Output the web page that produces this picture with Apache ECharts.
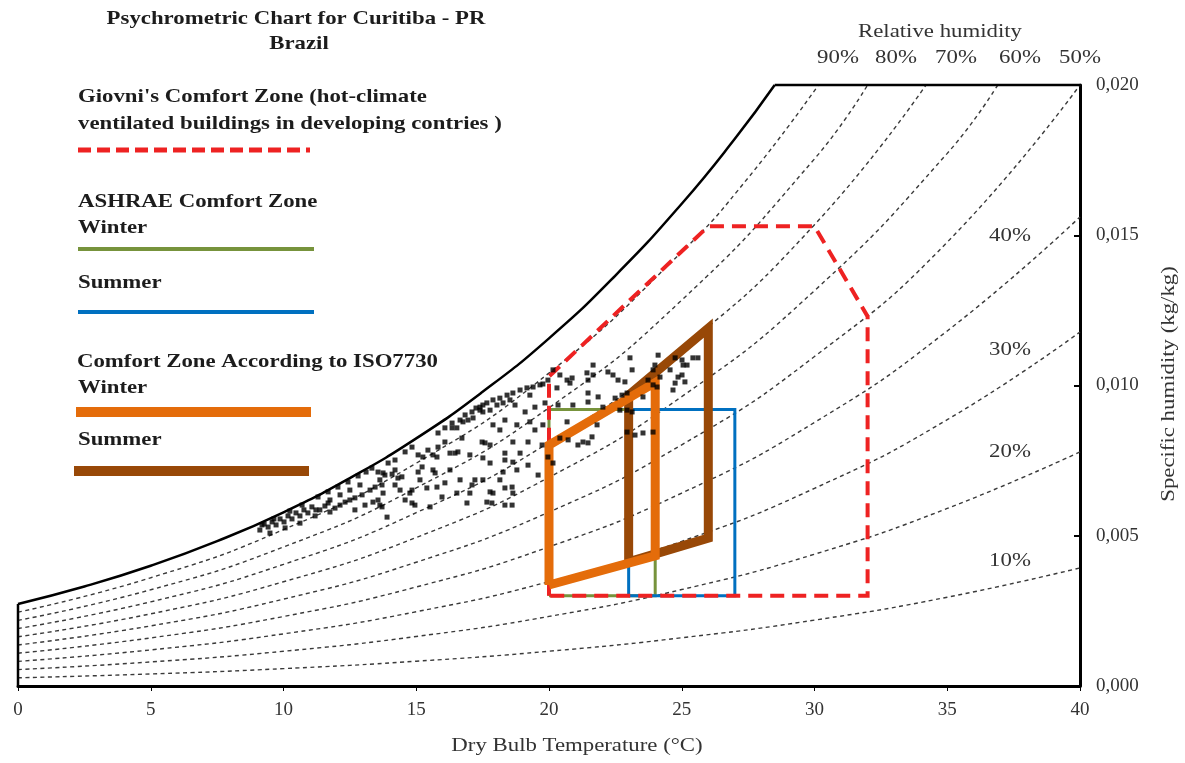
<!DOCTYPE html>
<html>
<head>
<meta charset="utf-8">
<script src="https://cdn.jsdelivr.net/npm/echarts@6/dist/echarts.min.js"></script>
<style>html,body{margin:0;padding:0;background:#fff}#c{width:1185px;height:763px}</style>
</head>
<body>
<div id="c"></div>
<script>
// ---------- data ----------
const xTickValues = [0, 5, 10, 15, 20, 25, 30, 35, 40];
const yTickValues = [0, 0.005, 0.010, 0.015, 0.020];

// saturation (100%) curve and its closing segments
const satCurve = [[0,0.00273],[2.5,0.00331],[5,0.00400],[7.5,0.00482],[10,0.00578],[12.5,0.00692],[15,0.00824],[17.5,0.00979],[20,0.01157],[22.5,0.01366],[25,0.01605],[27,0.01821],[28.5,0.0200]];
const satTop = [[28.5,0.0200],[40,0.0200]];
const leftEdge = [[0,0],[0,0.00273]];

// relative humidity curves (dashed)
const rh90 = [[0,0.002458],[5,0.003602],[10,0.005204],[15,0.007414],[20,0.010417],[25,0.014446],[27.5,0.01691],[30.15,0.0200]];
const rh80 = [[0,0.002185],[5,0.003202],[10,0.004626],[15,0.006590],[20,0.009259],[25,0.012841],[30,0.017542],[32.0,0.0200]];
const rh70 = [[0,0.001912],[5,0.002801],[10,0.004047],[15,0.005767],[20,0.008102],[25,0.011236],[30,0.015350],[34.2,0.0200]];
const rh60 = [[0,0.001639],[5,0.002401],[10,0.003469],[15,0.004943],[20,0.006944],[25,0.009631],[30,0.013157],[35,0.017724],[36.9,0.0200]];
const rh50 = [[0,0.001366],[5,0.002001],[10,0.002891],[15,0.004119],[20,0.005787],[25,0.008026],[30,0.010964],[35,0.014770],[40,0.0200]];
const rh40 = [[0,0.001092],[5,0.001601],[10,0.002313],[15,0.003295],[20,0.004630],[25,0.006420],[30,0.008771],[35,0.011816],[40,0.01561]];
const rh30 = [[0,0.000819],[5,0.001201],[10,0.001735],[15,0.002471],[20,0.003472],[25,0.004815],[30,0.006578],[35,0.008862],[40,0.01178]];
const rh20 = [[0,0.000546],[5,0.000800],[10,0.001156],[15,0.001648],[20,0.002315],[25,0.003210],[30,0.004386],[35,0.005908],[40,0.00779]];
const rh10 = [[0,0.000273],[5,0.000400],[10,0.000578],[15,0.000824],[20,0.001157],[25,0.001605],[30,0.002193],[35,0.002954],[40,0.00393]];
const rhTopLabels = ['90%', '80%', '70%', '60%', '50%'];
const rhSideLabels = ['40%', '30%', '20%', '10%'];

// comfort zones
const givoniZone = [[20,0.0030],[20,0.0103],[26,0.0153],[30,0.0153],[32,0.0123],[32,0.0030],[20,0.0030]];
const ashraeWinter = [[20,0.0030],[20,0.0092],[24,0.0092],[24,0.0030],[20,0.0030]];
const ashraeSummer = [[23,0.0030],[23,0.0092],[27,0.0092],[27,0.0030],[23,0.0030]];
const isoWinter = [[20,0.00336],[20,0.00802],[24,0.01010],[24,0.00433],[20,0.00336]];
const isoSummer = [[23,0.00413],[23,0.00968],[26,0.01191],[26,0.00492],[23,0.00413]];

// observed climate points for Curitiba
const curitibaObs = [
[9.11,0.00519],[9.27,0.00539],[9.42,0.00529],[9.57,0.00546],[9.72,0.00536],[9.87,0.00556],[10.02,0.00546],[10.17,0.00566],[10.32,0.00556],[10.47,0.00576],[10.62,0.00566],[10.77,0.00586],[10.92,0.00576],[11.07,0.00596],[11.22,0.00586],[9.49,0.00509],[10.06,0.00526],[10.62,0.00542],[11.19,0.00566],
[11.37,0.00586],[11.56,0.00599],[11.68,0.00609],[11.75,0.00579],[11.94,0.00592],[12.13,0.00602],[12.32,0.00612],[12.50,0.00619],[12.69,0.00626],[12.96,0.00636],[13.26,0.00652],[13.45,0.00662],[13.63,0.00686],[13.75,0.00709],[13.56,0.00619],[13.71,0.00596],[13.37,0.00612],[12.50,0.00652],[12.88,0.00669],[12.13,0.00636],[11.75,0.00619],
[13.56,0.00712],[13.82,0.00702],[14.09,0.00705],[14.31,0.00692],[14.46,0.00696],[13.71,0.00669],[14.20,0.00669],[13.75,0.00642],[13.63,0.00602],[13.90,0.00562],[14.76,0.00642],[14.84,0.00609],[15.07,0.00712],[15.22,0.00729],[15.07,0.00769],[15.25,0.00762],[15.44,0.00785],[15.78,0.00762],[15.63,0.00769],[15.82,0.00842],[15.82,0.00795],[16.08,0.00812],[16.35,0.00859],[16.53,0.00859],[16.65,0.00885],[16.76,0.00879],[16.95,0.00885],[17.14,0.00892],[17.10,0.00912],[17.40,0.00918],[17.51,0.00935],[16.72,0.00825],[16.46,0.00775],[16.57,0.00779],[16.27,0.00775],[15.63,0.00719],[15.40,0.00659],[15.78,0.00662],[16.08,0.00676],[15.71,0.00709],[15.97,0.00629],[16.53,0.00642],[17.02,0.00642],[17.10,0.00669],[17.21,0.00686],[17.51,0.00686],[16.91,0.00609],[17.48,0.00812],[17.51,0.00759],[15.52,0.00596],[14.95,0.00602],[14.84,0.00652],
[17.40,0.00928],[17.66,0.00942],[17.89,0.00952],[18.15,0.00958],[18.42,0.00968],[18.64,0.00975],[18.91,0.00985],[19.17,0.00992],[19.40,0.00995],[19.66,0.01002],[19.77,0.01005],[17.51,0.00912],[17.78,0.00918],[18.04,0.00935],[18.27,0.00942],[18.53,0.00952],[19.47,0.00928],[19.10,0.00912],[19.85,0.00942],[17.89,0.00869],[18.79,0.00869],[19.28,0.00879],[17.59,0.00809],[17.78,0.00802],[18.34,0.00775],[18.91,0.00775],[19.21,0.00812],[18.64,0.00812],[17.78,0.00742],[18.34,0.00752],[18.64,0.00745],[18.79,0.00719],[19.21,0.00735],[18.27,0.00712],[18.34,0.00659],[18.61,0.00662],[18.64,0.00642],[17.78,0.00646],[17.89,0.00642],[17.85,0.00609],[18.34,0.00602],[18.61,0.00602],[17.66,0.00612],[19.74,0.00802],[19.77,0.00869],[19.96,0.00762],[20.15,0.00742],[19.96,0.01018],[20.15,0.01052],
[20.41,0.01035],[20.68,0.01018],[20.87,0.01025],[20.79,0.01008],[21.43,0.01042],[21.66,0.01068],[21.47,0.01018],[21.66,0.01035],[22.22,0.01045],[22.41,0.01035],[22.60,0.01018],[22.86,0.01012],[23.05,0.01092],[23.13,0.01052],[22.94,0.00975],[22.75,0.00968],[22.49,0.00958],[22.67,0.00918],[22.94,0.00918],[23.13,0.00912],[22.03,0.00928],[21.47,0.00975],[21.47,0.00945],[21.85,0.00962],[20.90,0.00935],[20.30,0.00992],[20.34,0.00935],[23.54,0.00962],[23.92,0.01052],[24.11,0.01101],[23.99,0.01068],[23.73,0.01018],[23.92,0.01002],[24.07,0.00995],[24.18,0.01028],[24.56,0.01052],[24.75,0.01092],[25.01,0.01085],[25.05,0.01068],[25.20,0.01068],[25.42,0.01092],[25.61,0.01092],[24.75,0.01008],[24.86,0.01028],[25.01,0.01035],[25.12,0.01012],[24.67,0.00985],[20.68,0.00879],[21.81,0.00869],[21.62,0.00829],[21.28,0.00812],[21.09,0.00802],[21.47,0.00809],[20.72,0.00819],[20.41,0.00825],[22.94,0.00845],[23.24,0.00835],[23.54,0.00842],[23.92,0.00845],
[9.19,0.00536],[9.64,0.00556],[10.24,0.00582],[10.70,0.00602],[11.30,0.00629],[11.68,0.00646],[12.05,0.00662],[12.43,0.00679],[12.81,0.00699],[13.11,0.00712],[13.33,0.00725],[13.94,0.00742],[14.20,0.00752],[14.58,0.00779],[14.84,0.00795],[16.08,0.00859],[16.35,0.00875],[16.84,0.00902],[17.25,0.00925],
[12.69,0.00586],[13.07,0.00602],[14.39,0.00652],[14.58,0.00619],[15.14,0.00686],[16.27,0.00719],[16.65,0.00686],[14.20,0.00719],[18.15,0.00852],[18.34,0.00885],[19.47,0.00852],[19.59,0.00702],[18.15,0.00686],[17.02,0.00769],[19.28,0.00968],[18.72,0.00935]
];

// ---------- chart ----------
const SERIF = '"Liberation Serif", "Times New Roman", serif';
const SX = 1.2;
const chart = echarts.init(document.getElementById('c'), null, {renderer: 'canvas'});

function dashLine(data) {
  return {type: 'line', data: data, smooth: true, showSymbol: false, silent: true, clip: false, z: 2,
    lineStyle: {color: '#3a3a3a', width: 1.4, type: [4, 3.5]}};
}
function solidLine(data, color, width, extra) {
  return Object.assign({type: 'line', data: data, showSymbol: false, silent: true, clip: false, z: 3,
    lineStyle: {color: color, width: width, join: 'miter', cap: 'butt'}}, extra || {});
}
function txt(s, x, y, opts) {
  opts = opts || {};
  return {type: 'text', x: x, y: y, scaleX: SX, rotation: opts.rot || 0, z: 100,
    style: {text: s, fontFamily: SERIF, fontSize: opts.size || 19, fontWeight: opts.bold ? 'bold' : 'normal',
      fill: opts.color || '#1c1c1c', textAlign: opts.align || 'left', textVerticalAlign: 'middle'}};
}
function seg(x1, y1, x2, y2, color, w, dash) {
  return {type: 'line', z: 100, shape: {x1: x1, y1: y1, x2: x2, y2: y2},
    style: {stroke: color, lineWidth: w, lineDash: dash || null, lineCap: 'butt'}};
}

const topX = [838, 896, 956, 1020, 1080];
const sideY = [236, 350, 452, 561];
const graphics = [
  txt('Psychrometric Chart for Curitiba - PR', 296, 19, {bold: true, align: 'center'}),
  txt('Brazil', 299, 44, {bold: true, align: 'center'}),
  txt("Giovni's Comfort Zone (hot-climate", 78, 97, {bold: true}),
  txt('ventilated buildings in developing contries )', 78, 124, {bold: true}),
  seg(78, 150, 310, 150, '#ee2222', 5, [13, 6]),
  txt('ASHRAE Comfort Zone', 78, 202, {bold: true}),
  txt('Winter', 78, 228, {bold: true}),
  seg(78, 249, 314, 249, '#77933c', 4),
  txt('Summer', 78, 283, {bold: true}),
  seg(78, 312, 314, 312, '#0070c0', 4),
  txt('Comfort Zone According to ISO7730', 77, 362, {bold: true}),
  txt('Winter', 78, 388, {bold: true}),
  seg(76, 412, 311, 412, '#e46c0a', 10),
  txt('Summer', 78, 440, {bold: true}),
  seg(74, 471, 309, 471, '#984807', 10),
  txt('Relative humidity', 940, 32, {align: 'center', color: '#333'}),
  txt('Dry Bulb Temperature (°C)', 577, 746, {align: 'center', color: '#333'}),
  txt('Specific humidity (kg/kg)', 1169, 384, {align: 'center', color: '#333', rot: Math.PI / 2})
];
rhTopLabels.forEach((t, i) => graphics.push(txt(t, topX[i], 58, {align: 'center', color: '#333'})));
rhSideLabels.forEach((t, i) => graphics.push(txt(t, 1010, sideY[i], {align: 'center', color: '#333'})));

const option = {
  backgroundColor: '#fff',
  animation: false,
  grid: {left: 18, right: 105, top: 85, bottom: 77, containLabel: false},
  xAxis: {
    type: 'value', min: xTickValues[0], max: xTickValues[xTickValues.length - 1], interval: 5,
    splitLine: {show: false},
    axisLine: {show: true, onZero: false, lineStyle: {color: '#000', width: 3}},
    axisTick: {show: true, inside: false, length: 5, lineStyle: {color: '#000', width: 1}},
    axisLabel: {fontFamily: SERIF, fontSize: 19, color: '#333', margin: 15}
  },
  yAxis: {
    type: 'value', position: 'right', min: yTickValues[0], max: yTickValues[yTickValues.length - 1], interval: 0.005,
    splitLine: {show: false},
    axisLine: {show: true, onZero: false, lineStyle: {color: '#000', width: 3}},
    axisTick: {show: true, inside: true, length: 6, lineStyle: {color: '#000', width: 2}},
    axisLabel: {fontFamily: SERIF, fontSize: 19, color: '#333', margin: 16,
      formatter: v => v.toFixed(3).replace('.', ',')}
  },
  graphic: graphics,
  series: [
    dashLine(rh90), dashLine(rh80), dashLine(rh70), dashLine(rh60), dashLine(rh50),
    dashLine(rh40), dashLine(rh30), dashLine(rh20), dashLine(rh10),
    solidLine(satCurve, '#000', 2.5, {smooth: true}),
    solidLine(satTop, '#000', 2.5),
    solidLine(leftEdge, '#000', 2.5),
    solidLine(ashraeWinter, '#77933c', 3, {z: 4}),
    solidLine(ashraeSummer, '#0070c0', 3, {z: 5}),
    {type: 'line', data: givoniZone, showSymbol: false, silent: true, clip: false, z: 6,
      lineStyle: {color: '#ee2222', width: 4, type: [14, 8], join: 'miter'}},
    solidLine(isoSummer, '#984807', 9, {z: 7}),
    solidLine(isoWinter, '#e46c0a', 9, {z: 8}),
    {type: 'scatter', data: curitibaObs, symbol: 'rect', symbolSize: 5, z: 10, silent: true,
      itemStyle: {color: '#000'}}
  ]
};
chart.setOption(option);
</script>
</body>
</html>
